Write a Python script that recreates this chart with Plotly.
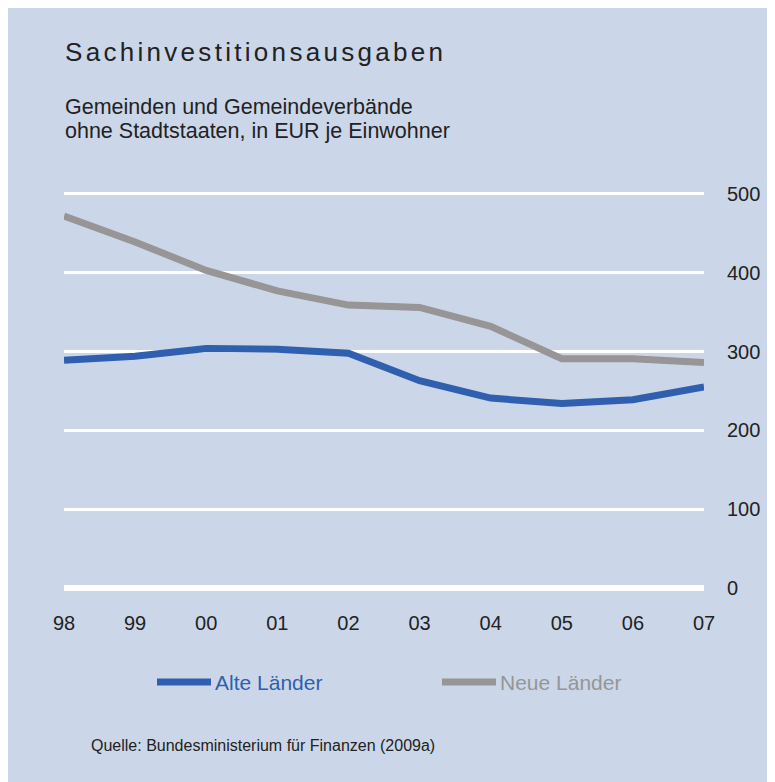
import plotly.graph_objects as go

years = ["98", "99", "00", "01", "02", "03", "04", "05", "06", "07"]
alte_laender = [289, 294, 304, 303, 298, 263, 241, 234, 239, 255]
neue_laender = [472, 439, 403, 377, 359, 356, 332, 291, 291, 286]
y_ticks = [0, 100, 200, 300, 400, 500]

title_text = "Sachinvestitionsausgaben"
subtitle_1 = "Gemeinden und Gemeindeverbände"
subtitle_2 = "ohne Stadtstaaten, in EUR je Einwohner"
source_text = "Quelle: Bundesministerium für Finanzen (2009a)"
name_alte = "Alte Länder"
name_neue = "Neue Länder"

BG = "#cbd7e9"
BLUE = "#2f5fae"
GREY = "#979595"
TXT = "#222222"
FONT = "Liberation Sans, Arial, sans-serif"

OFF = 8  # page body margin
W, H = 767, 774
L, R, T, B = 56, 71, 184, 194
PW = W - L - R
PH = H - T - B


def px_x(ref_px):
    return (ref_px - OFF - L) / PW


def px_y(ref_py):
    return (H - B - (ref_py - OFF)) / PH


fig = go.Figure()
fig.add_trace(go.Scatter(x=years, y=neue_laender, mode="lines", name=name_neue,
                         line=dict(color=GREY, width=7), showlegend=False))
fig.add_trace(go.Scatter(x=years, y=alte_laender, mode="lines", name=name_alte,
                         line=dict(color=BLUE, width=7), showlegend=False))

shapes = [
    dict(type="line", xref="paper", yref="paper", x0=px_x(157), x1=px_x(211),
         y0=px_y(682), y1=px_y(682), line=dict(color=BLUE, width=7)),
    dict(type="line", xref="paper", yref="paper", x0=px_x(442), x1=px_x(496),
         y0=px_y(682), y1=px_y(682), line=dict(color=GREY, width=7)),
]

annotations = [
    dict(text='<span style="letter-spacing:3.3px">' + title_text + '</span>',
         x=px_x(63), y=px_y(52), xref="paper", yref="paper", xanchor="left", yanchor="middle",
         showarrow=False, font=dict(family=FONT, size=26, color=TXT)),
    dict(text=subtitle_1, x=px_x(63), y=px_y(107), xref="paper", yref="paper",
         xanchor="left", yanchor="middle", showarrow=False,
         font=dict(family=FONT, size=21.5, color=TXT)),
    dict(text=subtitle_2, x=px_x(63), y=px_y(131), xref="paper", yref="paper",
         xanchor="left", yanchor="middle", showarrow=False,
         font=dict(family=FONT, size=21.5, color=TXT)),
    dict(text=name_alte, x=px_x(213), y=px_y(682), xref="paper", yref="paper",
         xanchor="left", yanchor="middle", showarrow=False,
         font=dict(family=FONT, size=21, color=BLUE)),
    dict(text=name_neue, x=px_x(498), y=px_y(682), xref="paper", yref="paper",
         xanchor="left", yanchor="middle", showarrow=False,
         font=dict(family=FONT, size=21, color=GREY)),
    dict(text=source_text, x=px_x(89), y=px_y(745), xref="paper", yref="paper",
         xanchor="left", yanchor="middle", showarrow=False,
         font=dict(family=FONT, size=16, color=TXT)),
]

fig.update_layout(
    width=W, height=H,
    margin=dict(l=L, r=R, t=T, b=B, pad=0),
    paper_bgcolor=BG,
    plot_bgcolor=BG,
    shapes=shapes,
    annotations=annotations,
    showlegend=False,
    hovermode=False,
)
fig.update_xaxes(
    type="category", range=[0, 9], showgrid=False, zeroline=False, showline=False,
    ticks="", ticklabelstandoff=21,
    tickfont=dict(family=FONT, size=20, color=TXT),
)
fig.update_yaxes(
    side="right", range=[0, 502.5], tickvals=y_ticks,
    showgrid=True, gridcolor="white", gridwidth=2.5,
    zeroline=True, zerolinecolor="white", zerolinewidth=6,
    showline=False, ticks="", ticklabelstandoff=22,
    tickfont=dict(family=FONT, size=20, color=TXT),
)

fig.write_html("out.html")
